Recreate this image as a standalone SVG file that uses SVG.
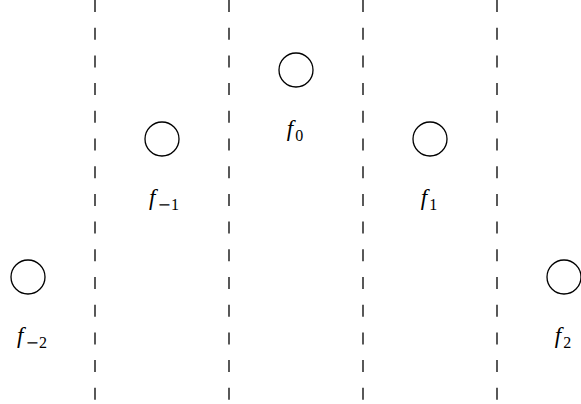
<svg xmlns="http://www.w3.org/2000/svg" width="581" height="404" viewBox="0 0 581 404">
<style>
.sep{stroke:#000;stroke-width:1.3;stroke-dasharray:12 15.7;fill:none}
.node{fill:none;stroke:#000;stroke-width:1.3}
.lbl{font-family:"Liberation Serif",serif;font-size:23px;fill:#000;text-anchor:middle}
.f{font-style:italic}
.sub{font-size:16px}
.m{font-family:"DejaVu Serif",serif}
</style>
<rect width="581" height="404" fill="#fff"/>
<g id="separators">
<line class="sep" x1="95" y1="0" x2="95" y2="404"/>
<line class="sep" x1="229" y1="0" x2="229" y2="404"/>
<line class="sep" x1="363" y1="0" x2="363" y2="404"/>
<line class="sep" x1="497" y1="0" x2="497" y2="404"/>
</g>
<g id="fm2"><circle class="node" cx="28" cy="277" r="17"/><text class="lbl" x="32" y="343"><tspan class="f">f</tspan><tspan class="sub m" dx="2" dy="5">−</tspan><tspan class="sub">2</tspan></text></g>
<g id="fm1"><circle class="node" cx="162" cy="139" r="17"/><text class="lbl" x="164" y="205"><tspan class="f">f</tspan><tspan class="sub m" dx="2" dy="5">−</tspan><tspan class="sub">1</tspan></text></g>
<g id="f0"><circle class="node" cx="296" cy="70" r="17"/><text class="lbl" x="295" y="136"><tspan class="f">f</tspan><tspan class="sub" dx="2" dy="5">0</tspan></text></g>
<g id="f1"><circle class="node" cx="430" cy="139" r="17"/><text class="lbl" x="429" y="205"><tspan class="f">f</tspan><tspan class="sub" dx="2" dy="5">1</tspan></text></g>
<g id="f2"><circle class="node" cx="564" cy="277" r="17"/><text class="lbl" x="563" y="343"><tspan class="f">f</tspan><tspan class="sub" dx="2" dy="5">2</tspan></text></g>
</svg>
